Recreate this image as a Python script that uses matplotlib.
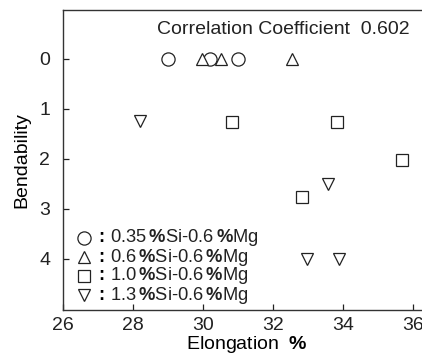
import matplotlib
matplotlib.use("Agg")
import matplotlib.pyplot as plt

plt.rcParams['font.family'] = ['Liberation Sans', 'DejaVu Sans']
plt.rcParams['mathtext.fontset'] = 'custom'
plt.rcParams['mathtext.rm'] = 'Liberation Sans'
plt.rcParams['mathtext.bf'] = 'Liberation Sans:bold'

# Data
si035_x = [29.0, 30.2, 31.0]
si035_y = [0, 0, 0]
si06_x = [29.97, 30.5, 32.54]
si06_y = [0, 0, 0]
si10_x = [30.83, 33.83, 35.67, 32.81]
si10_y = [1.27, 1.27, 2.02, 2.77]
si13_x = [28.2, 33.57, 32.96, 33.88]
si13_y = [1.25, 2.5, 4.0, 4.0]

labels = [r"0.35$\,\mathbf{\%}$Si-0.6$\,\mathbf{\%}$Mg",
          r"0.6$\,\mathbf{\%}$Si-0.6$\,\mathbf{\%}$Mg",
          r"1.0$\,\mathbf{\%}$Si-0.6$\,\mathbf{\%}$Mg",
          r"1.3$\,\mathbf{\%}$Si-0.6$\,\mathbf{\%}$Mg"]
markers = ['o', '^', 's', 'v']
xticks = [26, 28, 30, 32, 34, 36]
yticks = [0, 1, 2, 3, 4]

W, H = 422, 354
fig = plt.figure(figsize=(W/100, H/100), dpi=100)
ax = fig.add_axes([63.3/W, 44/H, 367.5/W, 300/H])

series = [(si035_x, si035_y), (si06_x, si06_y), (si10_x, si10_y), (si13_x, si13_y)]
sizes = [9.5, 8.5, 9, 8.5]
for (xs, ys), m, ms in zip(series, markers, sizes):
    ax.plot(xs, ys, linestyle='none', marker=m, markersize=ms,
            markerfacecolor='white', markeredgecolor='#222222', markeredgewidth=0.9)

ax.set_xlim(26, 36.5)
ax.set_ylim(5.03, -0.97)
ax.set_xticks(xticks)
ax.set_yticks(yticks)
ax.tick_params(direction='in', length=4, width=0.9, labelsize=14, colors='#222222')
ax.tick_params(axis='x', pad=5)
ax.tick_params(axis='y', pad=9.5)
for s in ['left', 'top', 'bottom']:
    ax.spines[s].set_linewidth(1.0)
    ax.spines[s].set_color('#333333')
ax.spines['right'].set_visible(False)

ax.set_xlabel(r"Elongation  $\mathbf{\%}$", fontsize=14, labelpad=0)
ax.set_ylabel("Bendability", fontsize=14, labelpad=6)

fig.text(157/W, 1 - 29/H, "Correlation Coefficient  0.602", fontsize=14,
         ha='left', va='center', color='#222222')

# legend
ys_leg = [238, 257, 276, 295]
for yl, m, ms, lab in zip(ys_leg, markers, sizes, labels):
    ax.plot([84/W], [1 - yl/H], transform=fig.transFigure, clip_on=False,
            marker=m, markersize=ms, markerfacecolor='white',
            markeredgecolor='#222222', markeredgewidth=0.9, linestyle='none')
    fig.text(101.5/W, 1 - yl/H, ":", fontsize=13, fontweight='bold', ha='center', va='center')
    fig.text(110/W, 1 - yl/H, lab, fontsize=13.2, ha='left', va='center', color='#222222')

fig.savefig("out.png", dpi=100)
